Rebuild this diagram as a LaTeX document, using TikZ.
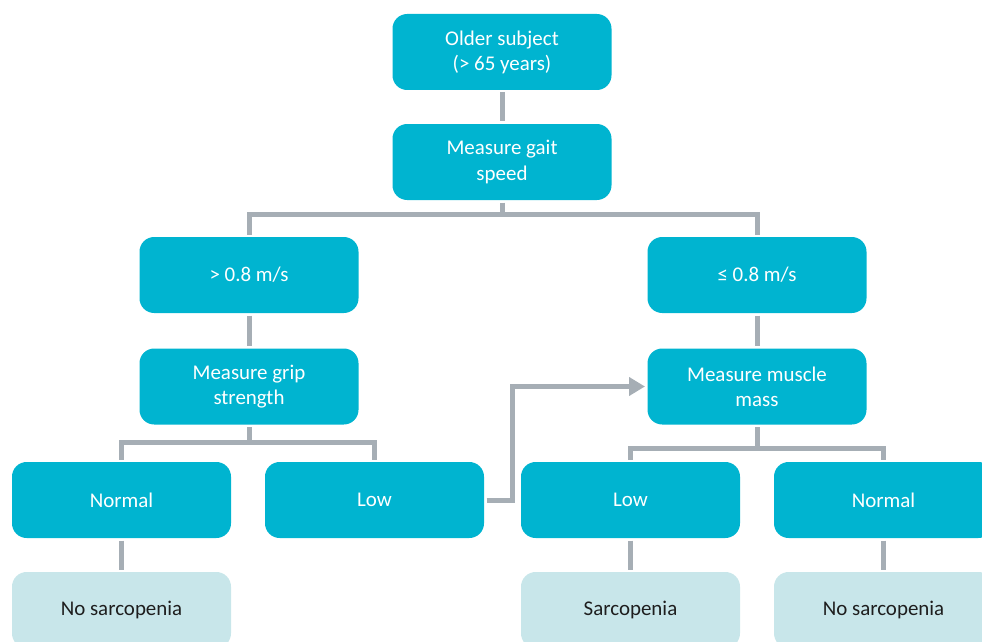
\documentclass[tikz,border=0pt]{standalone}
\usepackage{fontspec}
\setmainfont{Carlito}
\usetikzlibrary{arrows.meta}

\definecolor{boxcyan}{RGB}{0,180,208}
\definecolor{boxpale}{RGB}{200,230,234}
\definecolor{linkgray}{RGB}{166,174,181}
\definecolor{leaftext}{RGB}{30,30,30}

\tikzset{every picture/.style={line width=3.75pt}}
\tikzset{
  stepbox/.style={fill=boxcyan, draw=none, rounded corners=11pt, text=white,
    minimum width=164.25pt, minimum height=57pt, align=center,
    font=\fontsize{15.7}{18.8}\selectfont},
  leafbox/.style={stepbox, fill=boxpale, text=leaftext},
  link/.style={draw=linkgray, line width=3.75pt},
}

\begin{document}
\begin{tikzpicture}[x=0.75pt,y=0.75pt,yscale=-1,xscale=1]
\useasboundingbox (0,0) rectangle (982,642);

% Text Node
\node[stepbox] (old) at (502,52) {Older subject\\(> 65 years)};
% Text Node
\node[stepbox] (gait) at (502,162) {Measure gait\\speed};
% Text Node
\node[stepbox] (fast) at (249,275) {> 0.8 m/s};
% Text Node
\node[stepbox] (slow) at (757,275) {≤ 0.8 m/s};
% Text Node
\node[stepbox] (grip) at (249,386.5) {Measure grip\\strength};
% Text Node
\node[stepbox] (mass) at (757,386.5) {Measure muscle\\mass};
% Text Node
\node[stepbox] (normA) at (121.5,500) {Normal};
% Text Node
\node[stepbox] (lowA) at (374.5,500) {Low};
% Text Node
\node[stepbox] (lowB) at (630.5,500) {Low};
% Text Node
\node[stepbox] (normB) at (883.5,500) {Normal};
% Text Node
\node[leafbox] (noneA) at (121.5,610) {No sarcopenia};
% Text Node
\node[leafbox] (sarc) at (630.5,610) {Sarcopenia};
% Text Node
\node[leafbox] (noneB) at (883.5,610) {No sarcopenia};

%Straight Lines
\draw[link] (old.south) -- (gait.north);
\draw[link] (gait.south) -- ++(0,12) coordinate (splitG) -| (fast.north);
\draw[link] (splitG) -| (slow.north);
\draw[link] (fast.south) -- (grip.north);
\draw[link] (slow.south) -- (mass.north);
\draw[link] (grip.south) -- ++(0,15) coordinate (splitS) -| (normA.north);
\draw[link] (splitS) -| (lowA.north);
\draw[link] (mass.south) -- ++(0,21) coordinate (splitM) -| (lowB.north);
\draw[link] (splitM) -| (normB.north);
\draw[link] (normA.south) -- (noneA.north);
\draw[link] (lowB.south) -- (sarc.north);
\draw[link] (normB.south) -- (noneB.north);
%Arrow
\draw[link, -{Triangle[length=12pt,width=13.5pt]}] (lowA.east) -- ++(26,0) |- (mass.west);

\end{tikzpicture}
\end{document}
